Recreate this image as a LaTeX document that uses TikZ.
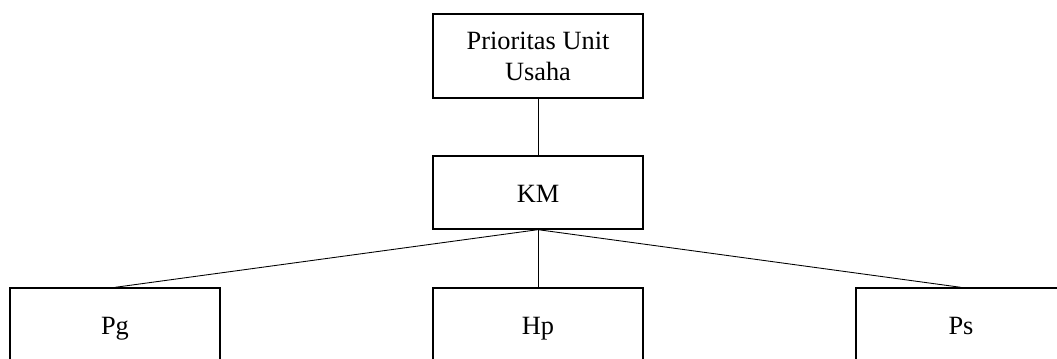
\documentclass[tikz,border=0pt]{standalone}
\usepackage{fontspec}
\setmainfont{Liberation Serif}

\begin{document}
\begin{tikzpicture}[
	kotak/.style = {draw, line width = 0.75pt, minimum width = 4.2cm, align = center, font = \fontsize{15}{17.6}\selectfont},
	kecil/.style = {kotak, minimum height = 1.46cm, text height = 11.5pt, text depth = 0pt},
	garis/.style = {line width = 0.5pt}]
	\useasboundingbox (0, 0) rectangle (21.14, -7.16);
%%%%%%%%%%%
	\node[kotak, minimum height = 1.68cm] (prioritas) at (10.76, -1.12) {Prioritas Unit\\Usaha};
	\node[kecil] (km) at (10.76, -3.85) {KM};
%%%%%%%%%%%
	\node[kecil] (pg) at (2.30, -6.49) {Pg};
	\node[kecil] (hp) at (10.76, -6.49) {Hp};
	\node[kecil] (ps) at (19.22, -6.49) {Ps};
%%%%%%%%%%%
	\draw[garis] (prioritas.south) -- (km.north);
	\draw[garis] (km.south) -- (pg.north);
	\draw[garis] (km.south) -- (hp.north);
	\draw[garis] (km.south) -- (ps.north);
\end{tikzpicture}
\end{document}
